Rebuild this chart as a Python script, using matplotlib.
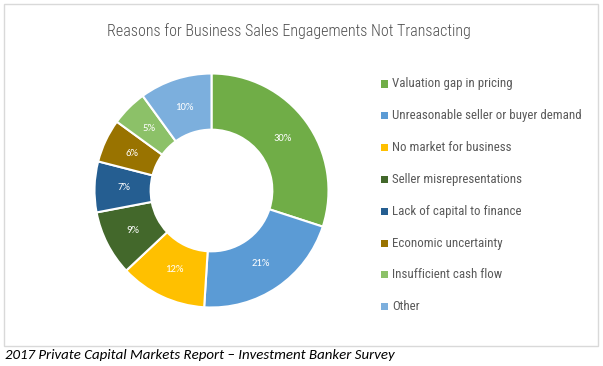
import matplotlib
matplotlib.use("Agg")
import matplotlib.pyplot as plt
from matplotlib.patches import Rectangle
import numpy as np

categories = ["Valuation gap in pricing", "Unreasonable seller or buyer demand",
              "No market for business", "Seller misrepresentations",
              "Lack of capital to finance", "Economic uncertainty",
              "Insufficient cash flow", "Other"]
values = [30, 21, 12, 9, 7, 6, 5, 10]
colors = ["#70AD47", "#5B9BD5", "#FFC000", "#43682B", "#255E91", "#997300", "#8CC168", "#7CAFDD"]

CAL = ["Carlito", "DejaVu Sans"]
NARROW = ["Roboto Condensed", "Barlow Semi Condensed", "Archivo Narrow", "Carlito", "DejaVu Sans"]

W, H = 603, 366
fig = plt.figure(figsize=(W / 100, H / 100), dpi=100)
fig.patch.set_facecolor("white")

def fx(px):
    return px / W

def fy(py):
    return 1 - py / H

# border
fig.patches.append(Rectangle((fx(4), fy(346)), fx(594), 342 / H, transform=fig.transFigure,
                             fill=False, edgecolor="#D9D9D9", linewidth=1.0))

# donut
cx, cy, r = 211.5, 190.5, 117
ax = fig.add_axes([fx(cx - r), fy(cy + r), fx(2 * r), 2 * r / H])
wedges, _ = ax.pie(values, colors=colors, startangle=90, counterclock=False,
                   radius=1.0, labeldistance=None,
                   wedgeprops=dict(width=0.48, edgecolor="white", linewidth=1.5))
for v, w in zip(values, wedges):
    theta = np.deg2rad((w.theta1 + w.theta2) / 2)
    rr = 0.75
    ax.text(rr * np.cos(theta), rr * np.sin(theta), f"{v}%", ha="center", va="center",
            color="white", fontsize=7.7, family=CAL)
ax.set_xlim(-1, 1)
ax.set_ylim(-1, 1)
ax.set_aspect("equal")
ax.axis("off")

# title
fig.text(fx(289), fy(31.5), "Reasons for Business Sales Engagements Not Transacting",
         ha="center", va="center", fontsize=11.5, color="#4F4F4F", family=NARROW,
         fontweight="light")

# legend
ly0, dy = 84, 31.8
for i, (lab, c) in enumerate(zip(categories, colors)):
    y = ly0 + i * dy
    fig.patches.append(Rectangle((fx(381), fy(y + 3.5)), fx(7), 7 / H, transform=fig.transFigure,
                                 facecolor=c, edgecolor="none"))
    fig.text(fx(392), fy(y), lab, ha="left", va="center", fontsize=9.3, color="#595959",
             family=NARROW)

# footer
fig.text(fx(5), fy(355), "2017 Private Capital Markets Report \u2013 Investment Banker Survey",
         ha="left", va="center", fontsize=10.7, style="italic", color="#000000", family=CAL)

fig.savefig("out.png", dpi=100)
